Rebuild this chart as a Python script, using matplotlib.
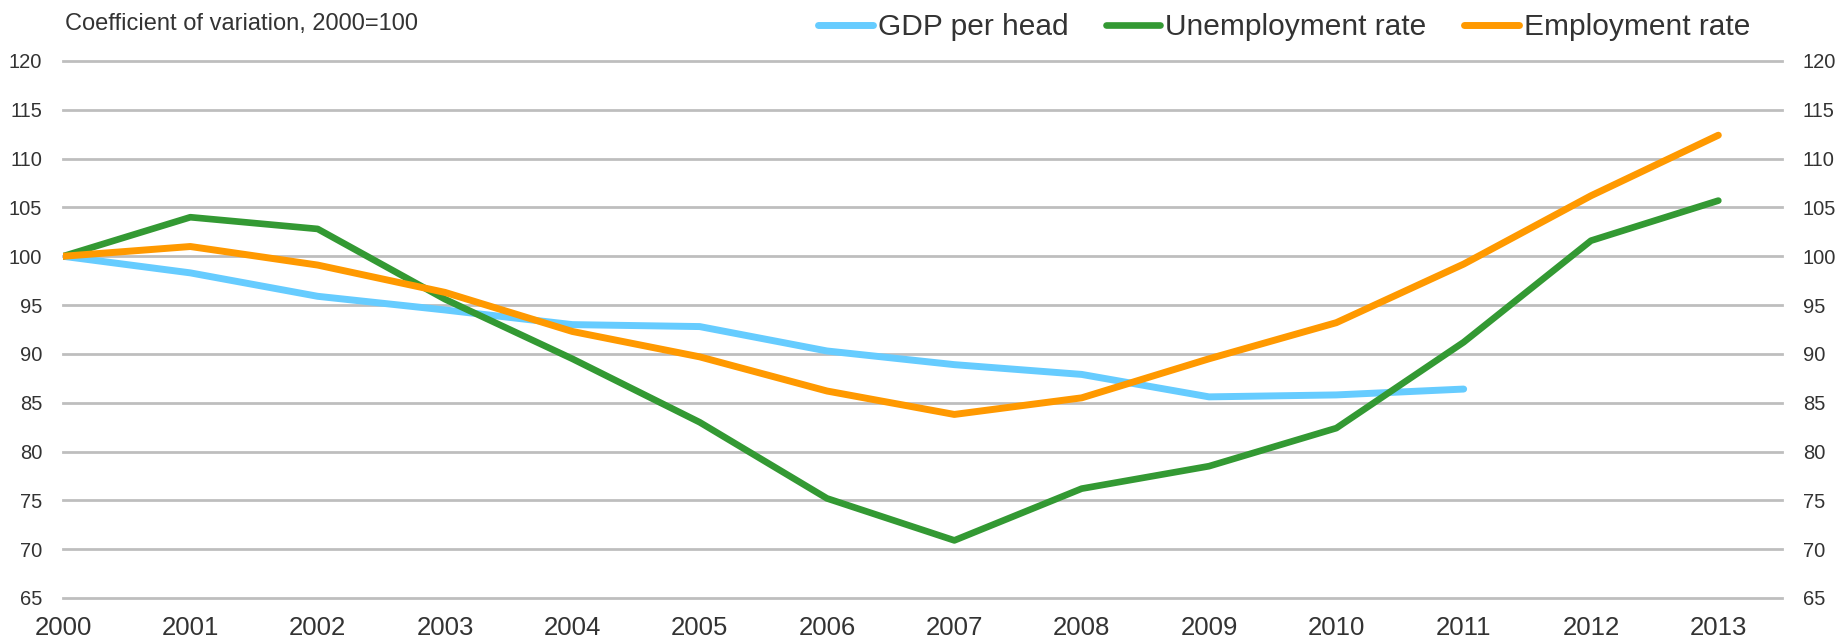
import matplotlib
matplotlib.use("Agg")
import matplotlib.pyplot as plt

plt.rcParams['font.family'] = ['Liberation Sans', 'DejaVu Sans']

lata = [2000, 2001, 2002, 2003, 2004, 2005, 2006, 2007, 2008, 2009, 2010, 2011, 2012, 2013]
lata_pkb = lata[:12]

pkb_na_glowe = [100, 98.3, 95.9, 94.5, 93.0, 92.8, 90.3, 88.9, 87.9, 85.6, 85.8, 86.4]
stopa_bezrobocia = [100, 104.0, 102.8, 95.6, 89.5, 83.0, 75.2, 70.9, 76.2, 78.5, 82.4, 91.2, 101.6, 105.7]
stopa_zatrudnienia = [100, 101.0, 99.1, 96.3, 92.3, 89.7, 86.2, 83.8, 85.5, 89.5, 93.2, 99.2, 106.2, 112.4]

y_ticks = [65, 70, 75, 80, 85, 90, 95, 100, 105, 110, 115, 120]

kolor_tekstu = '#333333'

fig = plt.figure(figsize=(18.43, 6.43), dpi=100)
ax = fig.add_axes([63/1843, 1 - 598/643, (1782 - 63)/1843, (598 - 61)/643])

ax.plot(lata_pkb, pkb_na_glowe, color='#66ccff', lw=5.0, solid_capstyle='round', label='GDP per head', zorder=3)
ax.plot(lata, stopa_bezrobocia, color='#339933', lw=4.8, solid_capstyle='round', label='Unemployment rate', zorder=4)
ax.plot(lata, stopa_zatrudnienia, color='#ff9900', lw=5.0, solid_capstyle='round', label='Employment rate', zorder=5)

ax.set_xlim(2000, 2013.5)
ax.set_ylim(65, 120)
ax.set_xticks(lata)
ax.set_xticklabels([str(r) for r in lata])
ax.set_yticks(y_ticks)
ax.yaxis.grid(True, color='#bebebe', lw=2.0)
ax.set_axisbelow(True)
ax.tick_params(axis='x', length=0, pad=13, labelsize=18.5, labelcolor=kolor_tekstu)
ax.tick_params(axis='y', length=0, pad=15, labelsize=14.5, labelcolor=kolor_tekstu)
for s in ax.spines.values():
    s.set_visible(False)
# linie siatki na 65 i 120 nie moga byc przyciete przez krawedz osi
for linia in ax.get_ygridlines():
    linia.set_clip_on(False)

ax2 = ax.twinx()
ax2.set_ylim(65, 120)
ax2.set_yticks(y_ticks)
ax2.tick_params(axis='y', length=0, pad=15, labelsize=14.5, labelcolor=kolor_tekstu)
for s in ax2.spines.values():
    s.set_visible(False)

fig.text(65/1843, 1 - 24/643, 'Coefficient of variation, 2000=100', fontsize=17,
         color=kolor_tekstu, va='center', ha='left')

fig.legend(loc='center right', bbox_to_anchor=(1750/1843, 1 - 27/643), ncol=3, frameon=False,
           fontsize=21.5, handlelength=1.83, handletextpad=0.17, columnspacing=1.25,
           borderpad=0, borderaxespad=0, labelcolor=kolor_tekstu)

fig.savefig('out.png', dpi=100, facecolor='white')
